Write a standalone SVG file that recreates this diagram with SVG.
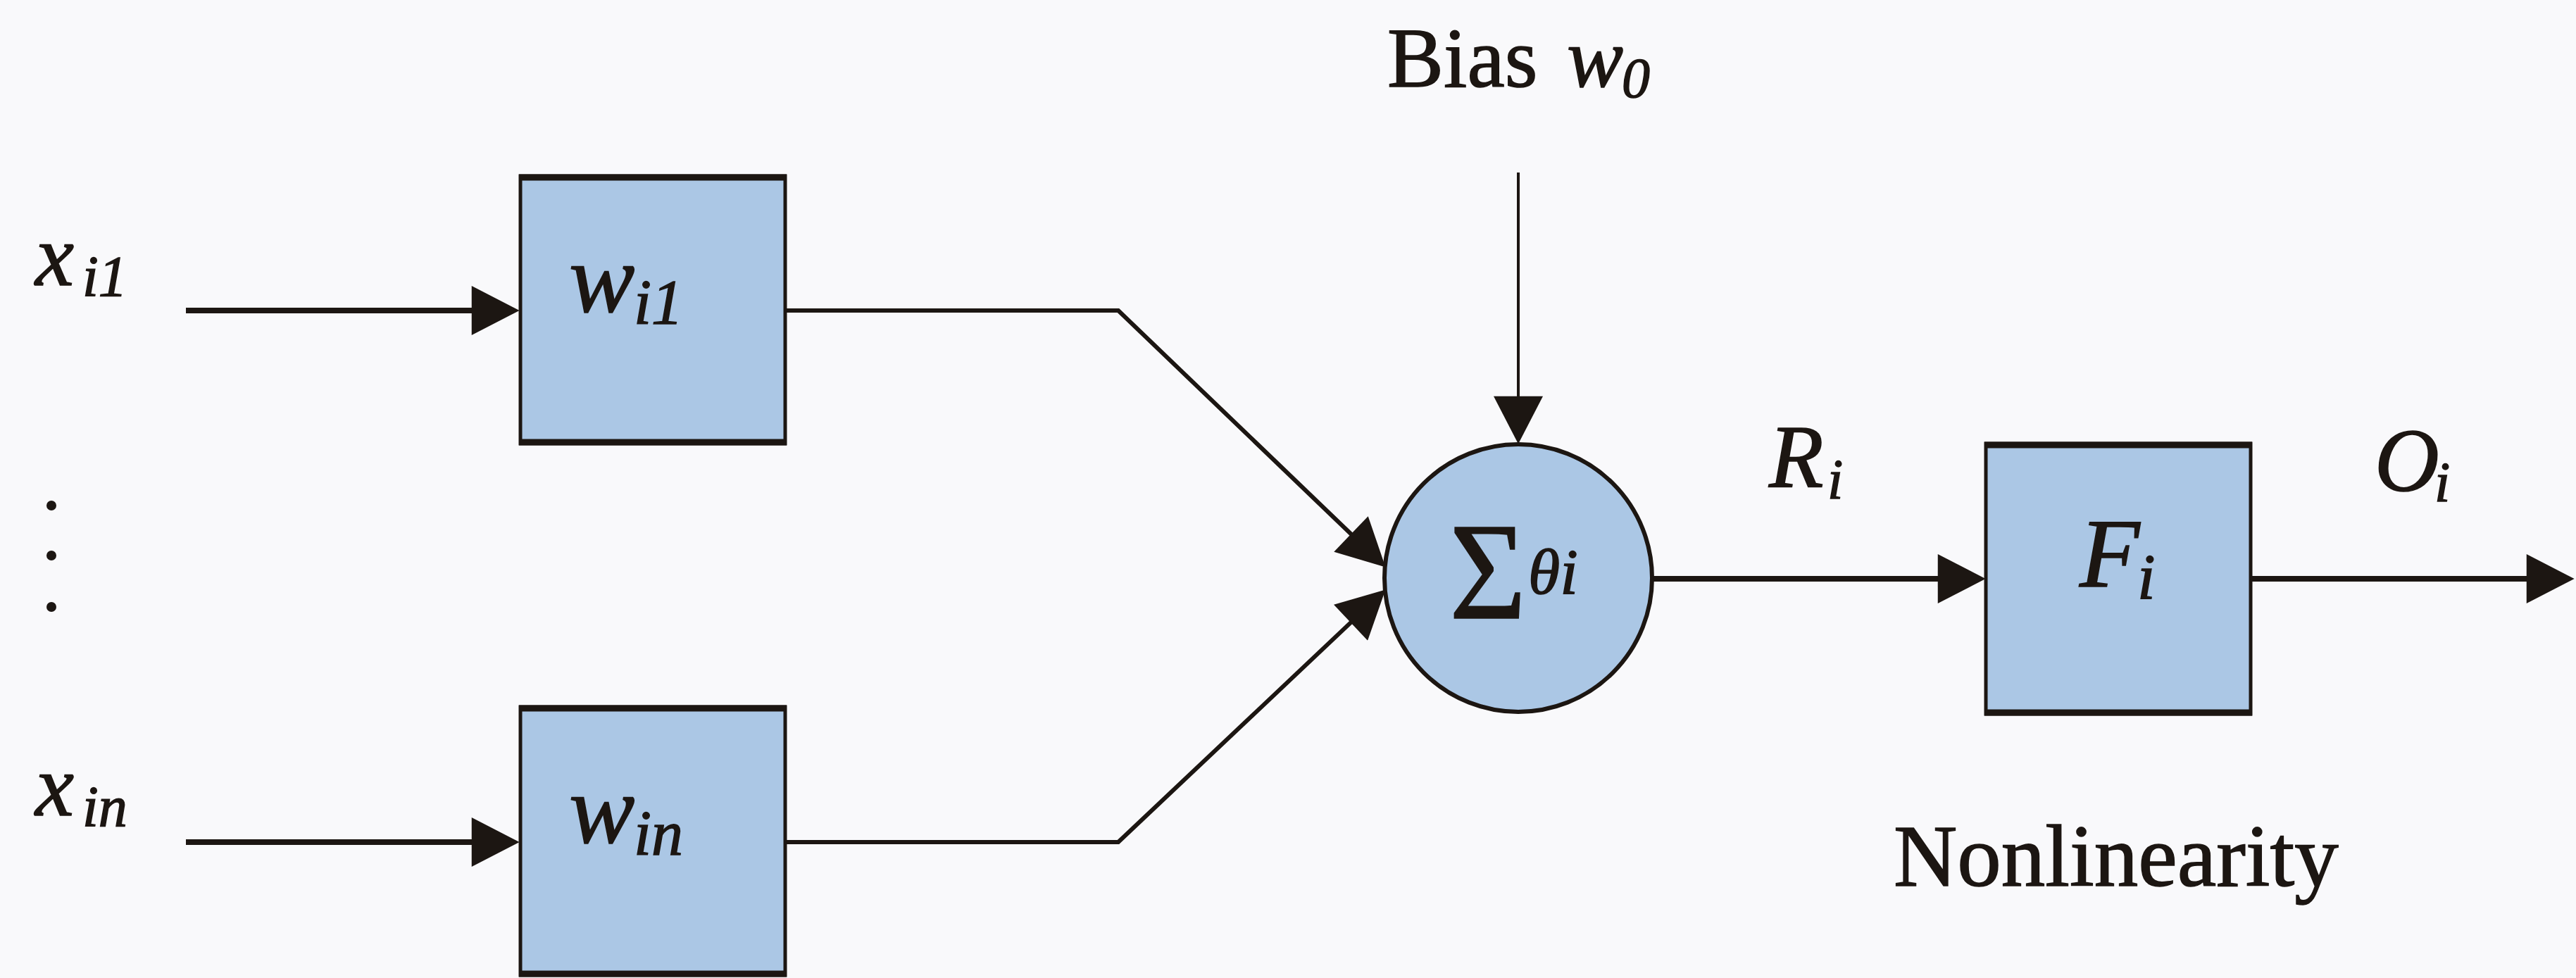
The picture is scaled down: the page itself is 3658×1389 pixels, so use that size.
<svg xmlns="http://www.w3.org/2000/svg" width="3658" height="1389" viewBox="0 0 3658 1389">
<defs>
<style>
.bg{fill:#f9f9fb}
.box{fill:#abc7e5;stroke:#1c1612;stroke-width:5}
.edge{fill:none;stroke:#1c1612;stroke-width:9}
.sum{fill:#abc7e5;stroke:#1c1612;stroke-width:6}
.con{fill:none;stroke:#1c1612;stroke-width:8;stroke-linejoin:miter}
.diag{stroke-width:6}
.thin{stroke-width:4}
.t{font-family:"Liberation Serif","Times New Roman",serif;fill:#1c1612;stroke:#1c1612;stroke-width:1.5}
.it{font-style:italic}
</style>
<marker id="ah" markerUnits="userSpaceOnUse" markerWidth="70" markerHeight="70" viewBox="0 0 64 66" refX="54" refY="33" orient="auto">
<path d="M0,0 L64,33 L0,66 z" fill="#1c1612"/>
</marker>
</defs>
<rect class="bg" x="0" y="0" width="3658" height="1389"/>

<g id="connectors">
<path class="con" d="M264,441 L727,441" marker-end="url(#ah)"/>
<path class="con" d="M264,1196 L727,1196" marker-end="url(#ah)"/>
<path class="con diag" d="M1115,441 L1588,441 L1959.8,798.1" marker-end="url(#ah)"/>
<path class="con diag" d="M1115,1196 L1588,1196 L1959.7,844.9" marker-end="url(#ah)"/>
<path class="con thin" d="M2156,245 L2156,620" marker-end="url(#ah)"/>
<path class="con" d="M2347,822 L2809,822" marker-end="url(#ah)"/>
<path class="con" d="M3196,822 L3645,822" marker-end="url(#ah)"/>
</g>

<g id="input1">
<text class="t it" x="50" y="405" font-size="124">x<tspan font-size="82" x="117" y="420">i1</tspan></text>
</g>
<g id="dots">
<circle cx="73" cy="718" r="7" fill="#1c1612"/>
<circle cx="73" cy="789" r="7" fill="#1c1612"/>
<circle cx="73" cy="862" r="7" fill="#1c1612"/>
</g>
<g id="inputn">
<text class="t it" x="50" y="1158" font-size="124">x<tspan font-size="82" x="117" y="1173">in</tspan></text>
</g>

<g id="weight1">
<rect class="box" x="739" y="250" width="376" height="380"/>
<path class="edge" d="M737,252 L1117,252 M737,628 L1117,628"/>
<text class="t it" x="808" y="443" font-size="140">w<tspan font-size="90" x="900" y="460">i1</tspan></text>
</g>

<g id="weightn">
<rect class="box" x="739" y="1004" width="376" height="381"/>
<path class="edge" d="M737,1006 L1117,1006 M737,1383 L1117,1383"/>
<text class="t it" x="808" y="1197" font-size="140">w<tspan font-size="90" x="900" y="1214">in</tspan></text>
</g>

<g id="bias">
<text class="t" x="1970" y="123" font-size="120">Bias <tspan class="it" x="2225">w</tspan><tspan class="it" font-size="80" x="2303" y="138">0</tspan></text>
</g>

<g id="summation">
<circle class="sum" cx="2156" cy="821" r="190"/>
<text class="t" transform="matrix(0.95 0 0 1 2058 878)" font-size="198">Σ</text>
<text class="t it" x="2170" y="843" font-size="92">θi</text>
</g>

<g id="label-r">
<text class="t it" x="2512" y="692" font-size="127">R<tspan font-size="80" x="2595" y="708">i</tspan></text>
</g>

<g id="nonlinearity">
<rect class="box" x="2820" y="630" width="376" height="384"/>
<path class="edge" d="M2818,632 L3198,632 M2818,1012 L3198,1012"/>
<text class="t it" x="2953" y="833" font-size="140">F<tspan font-size="92" x="3035" y="850">i</tspan></text>
<text class="t" x="2689" y="1258" font-size="125">Nonlinearity</text>
</g>

<g id="label-o">
<text class="t it" x="3372" y="697" font-size="127">O<tspan font-size="80" x="3457" y="712">i</tspan></text>
</g>
</svg>
